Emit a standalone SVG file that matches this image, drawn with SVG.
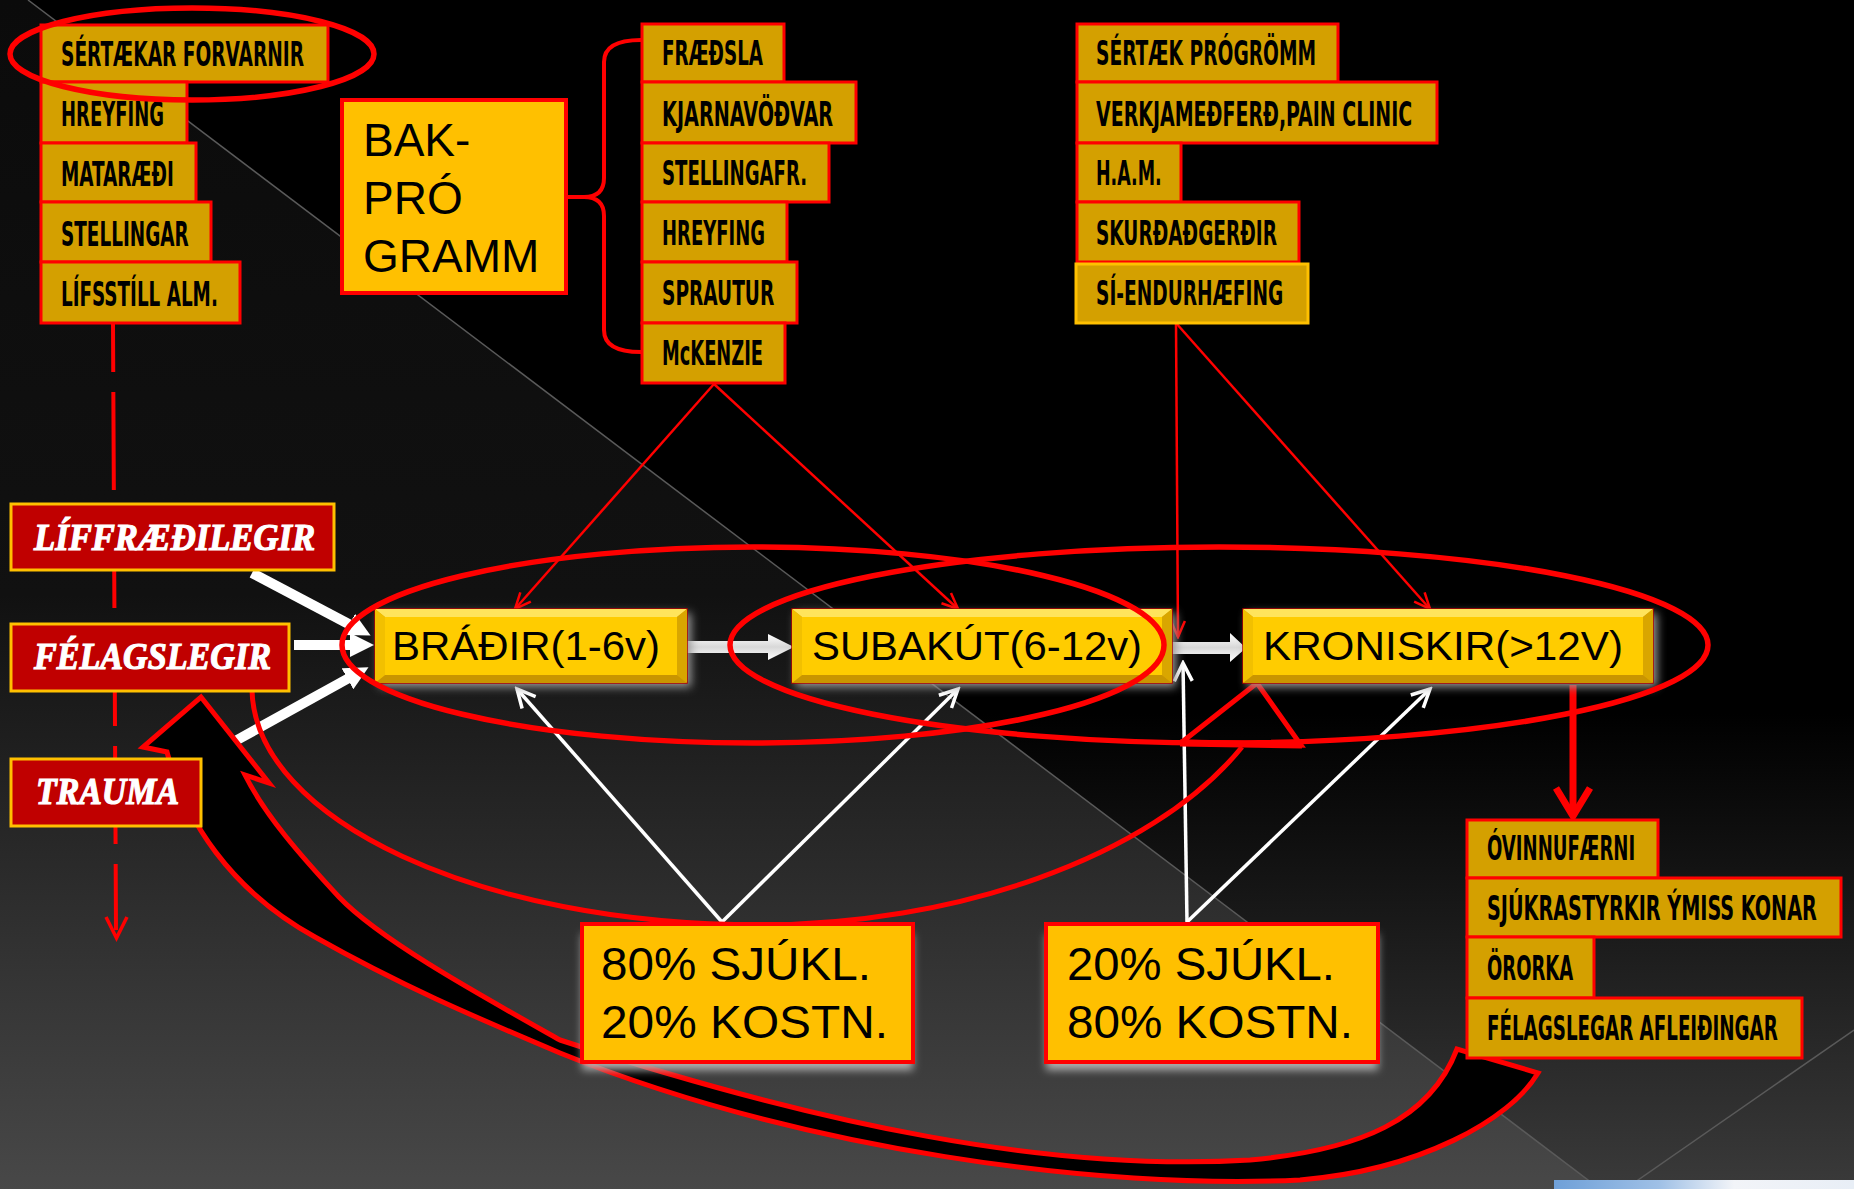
<svg xmlns="http://www.w3.org/2000/svg" width="1854" height="1189" viewBox="0 0 1854 1189">
<style>
.cbox{fill:#D4A000;stroke:#FF0000;stroke-width:3}
.cbox2{fill:#D4A000;stroke:#FFC000;stroke-width:3}
.ctext{font-family:"Liberation Sans Narrow","DejaVu Sans Condensed","Liberation Sans",sans-serif;font-weight:bold;font-size:33px;fill:#000}
.rbox{fill:#C00000;stroke:#FFC000;stroke-width:3}
.rtext{font-family:"Liberation Serif","DejaVu Serif",serif;font-weight:bold;font-style:italic;font-size:37px;fill:#fff;stroke:#fff;stroke-width:1.2}
.ybox{fill:#FFC000;stroke:#FF0000;stroke-width:4}
.atext{font-family:"Liberation Sans",Arial,sans-serif;fill:#000}
.ell{fill:none;stroke:#FF0000;stroke-width:5.5}
.rline{stroke:#FF0000;stroke-width:2.5;fill:none}
.wline{stroke:#FFFFFF;stroke-width:3.5;fill:none}
.wthick{stroke:#FFFFFF;stroke-width:10;fill:none}
.bt{fill:#FFE45C}.bb{fill:#C99500}.bl{fill:#F2C000}.br{fill:#D9A600}.bi{fill:#FFCC00}
.bo{fill:#D9A400;stroke:#B00000;stroke-width:1.5}
</style>
<defs>
<linearGradient id="bgR" x1="0" y1="0" x2="0" y2="1">
<stop offset="0" stop-color="#000"/><stop offset="0.6" stop-color="#000"/><stop offset="1" stop-color="#3a3a3a"/>
</linearGradient>
<linearGradient id="bgL" x1="0" y1="0" x2="0" y2="1">
<stop offset="0" stop-color="#0b0b0b"/><stop offset="0.5" stop-color="#111"/><stop offset="1" stop-color="#484848"/>
</linearGradient>
<linearGradient id="sky" x1="0" y1="0" x2="1" y2="0">
<stop offset="0" stop-color="#6fa0d8"/><stop offset="0.35" stop-color="#9fc0e6"/><stop offset="0.6" stop-color="#f2f4f8"/><stop offset="1" stop-color="#e8eef6"/>
</linearGradient>
<linearGradient id="shaft" x1="0" y1="0" x2="0" y2="1">
<stop offset="0" stop-color="#ffffff"/><stop offset="0.5" stop-color="#d8d8d8"/><stop offset="1" stop-color="#ffffff"/>
</linearGradient>
<filter id="blur" x="-20%" y="-40%" width="140%" height="180%"><feGaussianBlur stdDeviation="5"/></filter>
<filter id="blur2" x="-20%" y="-40%" width="140%" height="180%"><feGaussianBlur stdDeviation="4"/></filter>
<marker id="rArr" viewBox="0 0 20 20" refX="18" refY="10" markerWidth="20" markerHeight="20" markerUnits="userSpaceOnUse" orient="auto">
<path d="M2,3 L18,10 L2,17" fill="none" stroke="#FF0000" stroke-width="2.5"/>
</marker>
<marker id="wArr" viewBox="0 0 24 24" refX="21" refY="12" markerWidth="24" markerHeight="24" markerUnits="userSpaceOnUse" orient="auto">
<path d="M3,3 L21,12 L3,21" fill="none" stroke="#FFFFFF" stroke-width="3.5"/>
</marker>
<marker id="wTri" viewBox="0 0 20 20" refX="10" refY="10" markerWidth="24" markerHeight="24" markerUnits="userSpaceOnUse" orient="auto">
<path d="M0,0 L20,10 L0,20 Z" fill="#FFFFFF"/>
</marker>
</defs>

<g id="background">
<rect x="0" y="0" width="1854" height="1189" fill="url(#bgR)"/>
<polygon points="0,0 28,0 1600,1189 0,1189" fill="url(#bgL)"/>
<line x1="28" y1="0" x2="1600" y2="1189" stroke="#5a5a5a" stroke-width="1.5"/>
<line x1="1854" y1="1030" x2="1625" y2="1189" stroke="#5a5a5a" stroke-width="1.5"/>
<rect x="1554" y="1180" width="300" height="9" fill="url(#sky)"/>
</g>

<g id="connectors">
<line x1="113" y1="323" x2="116" y2="930" stroke="#FF0000" stroke-width="4" stroke-dasharray="98 20" stroke-dashoffset="49"/>
<polyline points="106,917 116.5,938 127,917" fill="none" stroke="#FF0000" stroke-width="3.5"/>
<path d="M641,40 Q604,40 604,62 L604,178 Q604,197 584,197 L566,197 M584,197 Q604,197 604,216 L604,330 Q604,352 641,352" fill="none" stroke="#FF0000" stroke-width="4"/>
<line class="rline" x1="714" y1="384" x2="515" y2="609" marker-end="url(#rArr)"/>
<line class="rline" x1="714" y1="384" x2="958" y2="609" marker-end="url(#rArr)"/>
<line class="rline" x1="1176" y1="323" x2="1178" y2="637" marker-end="url(#rArr)"/>
<line class="rline" x1="1176" y1="323" x2="1430" y2="609" marker-end="url(#rArr)"/>
<line class="wline" x1="722" y1="922" x2="517" y2="689" marker-end="url(#wArr)"/>
<line class="wline" x1="722" y1="922" x2="958" y2="689" marker-end="url(#wArr)"/>
<line class="wline" x1="1187" y1="922" x2="1183" y2="663" marker-end="url(#wArr)"/>
<line class="wline" x1="1187" y1="922" x2="1430" y2="689" marker-end="url(#wArr)"/>
<line class="wthick" x1="252" y1="573" x2="360" y2="630" marker-end="url(#wTri)"/>
<line class="wthick" x1="294" y1="645" x2="362" y2="645" marker-end="url(#wTri)"/>
<line class="wthick" x1="237" y1="740" x2="358" y2="673" marker-end="url(#wTri)"/>
<path d="M687,641 L768,641 L768,634 L794,647 L768,660 L768,653 L687,653 Z" fill="url(#shaft)"/>
<path d="M1172,642 L1230,642 L1230,633 L1246,648 L1230,662 L1230,654 L1172,654 Z" fill="url(#shaft)"/>
<line x1="1573" y1="685" x2="1573" y2="814" stroke="#FF0000" stroke-width="7"/>
<polyline points="1556,788 1573,816 1590,788" fill="none" stroke="#FF0000" stroke-width="7"/>
<path d="M167,752 C185,820 230,890 315,937 C400,985 470,1015 560,1053 C800,1150 1100,1190 1300,1180 C1420,1170 1510,1120 1538,1073 L1457,1049 C1430,1120 1360,1150 1250,1160 C1050,1172 820,1125 560,1040 C480,995 380,940 339,897 C300,855 265,815 245,775 L269,783 L201,697 L143,747 Z" fill="#000" stroke="#FF0000" stroke-width="5" stroke-linejoin="miter"/>
<path d="M252,690 C255,820 480,925 760,925 C950,925 1150,860 1242,747" fill="none" stroke="#FF0000" stroke-width="5"/>
<polygon points="1257,683 1182,742 1301,745" fill="none" stroke="#FF0000" stroke-width="5" stroke-linejoin="miter"/>
<line x1="1180" y1="743" x2="1302" y2="745" stroke="#FF0000" stroke-width="7"/>
</g>

<g id="n-sertaekar-forvarnir"><rect class="cbox" x="41" y="25" width="287" height="57"/><text class="ctext" transform="translate(61 66) scale(0.62 1)" textLength="392" lengthAdjust="spacingAndGlyphs">SÉRTÆKAR FORVARNIR</text></g>
<g id="n-hreyfing1"><rect class="cbox" x="41" y="82" width="146" height="61"/><text class="ctext" transform="translate(61 126) scale(0.62 1)" textLength="166" lengthAdjust="spacingAndGlyphs">HREYFING</text></g>
<g id="n-mataraedi"><rect class="cbox" x="41" y="143" width="155" height="59"/><text class="ctext" transform="translate(61 186) scale(0.62 1)" textLength="182" lengthAdjust="spacingAndGlyphs">MATARÆÐI</text></g>
<g id="n-stellingar"><rect class="cbox" x="41" y="202" width="170" height="60"/><text class="ctext" transform="translate(61 246) scale(0.62 1)" textLength="206" lengthAdjust="spacingAndGlyphs">STELLINGAR</text></g>
<g id="n-lifsstill"><rect class="cbox" x="41" y="262" width="199" height="61"/><text class="ctext" transform="translate(61 306) scale(0.62 1)" textLength="253" lengthAdjust="spacingAndGlyphs">LÍFSSTÍLL ALM.</text></g>

<g id="n-bakprogramm"><rect class="ybox" x="342" y="100" width="224" height="193" stroke-width="3"/>
<text class="atext" x="363" y="156" font-size="46">BAK-</text>
<text class="atext" x="363" y="214" font-size="46">PRÓ</text>
<text class="atext" x="363" y="272" font-size="46">GRAMM</text></g>

<g id="n-fraedsla"><rect class="cbox" x="642" y="24" width="142" height="58"/><text class="ctext" transform="translate(662 65) scale(0.62 1)" textLength="163" lengthAdjust="spacingAndGlyphs">FRÆÐSLA</text></g>
<g id="n-kjarnavodvar"><rect class="cbox" x="642" y="82" width="214" height="61"/><text class="ctext" transform="translate(662 126) scale(0.62 1)" textLength="276" lengthAdjust="spacingAndGlyphs">KJARNAVÖÐVAR</text></g>
<g id="n-stellingafr"><rect class="cbox" x="642" y="143" width="187" height="59"/><text class="ctext" transform="translate(662 185) scale(0.62 1)" textLength="234" lengthAdjust="spacingAndGlyphs">STELLINGAFR.</text></g>
<g id="n-hreyfing2"><rect class="cbox" x="642" y="202" width="145" height="60"/><text class="ctext" transform="translate(662 245) scale(0.62 1)" textLength="166" lengthAdjust="spacingAndGlyphs">HREYFING</text></g>
<g id="n-sprautur"><rect class="cbox" x="642" y="262" width="155" height="61"/><text class="ctext" transform="translate(662 305) scale(0.62 1)" textLength="181" lengthAdjust="spacingAndGlyphs">SPRAUTUR</text></g>
<g id="n-mckenzie"><rect class="cbox" x="642" y="323" width="143" height="60"/><text class="ctext" transform="translate(662 365) scale(0.62 1)" textLength="163" lengthAdjust="spacingAndGlyphs">McKENZIE</text></g>

<g id="n-sertaek-progromm"><rect class="cbox" x="1077" y="24" width="261" height="58"/><text class="ctext" transform="translate(1096 65) scale(0.62 1)" textLength="355" lengthAdjust="spacingAndGlyphs">SÉRTÆK PRÓGRÖMM</text></g>
<g id="n-verkjamedferd"><rect class="cbox" x="1077" y="82" width="360" height="61"/><text class="ctext" transform="translate(1096 126) scale(0.62 1)" textLength="510" lengthAdjust="spacingAndGlyphs">VERKJAMEÐFERÐ,PAIN CLINIC</text></g>
<g id="n-ham"><rect class="cbox" x="1077" y="143" width="104" height="59"/><text class="ctext" transform="translate(1096 185) scale(0.62 1)" textLength="106" lengthAdjust="spacingAndGlyphs">H.A.M.</text></g>
<g id="n-skurdadgerdir"><rect class="cbox" x="1077" y="202" width="222" height="60"/><text class="ctext" transform="translate(1096 245) scale(0.62 1)" textLength="292" lengthAdjust="spacingAndGlyphs">SKURÐAÐGERÐIR</text></g>
<g id="n-si-endurhaefing"><rect class="cbox2" x="1076" y="264" width="232" height="59"/><text class="ctext" transform="translate(1096 305) scale(0.62 1)" textLength="302" lengthAdjust="spacingAndGlyphs">SÍ-ENDURHÆFING</text></g>

<g id="n-liffraedilegir"><rect class="rbox" x="11" y="504" width="323" height="66"/><text class="rtext" x="34" y="550" textLength="281" lengthAdjust="spacingAndGlyphs">LÍFFRÆÐILEGIR</text></g>
<g id="n-felagslegir"><rect class="rbox" x="11" y="624" width="278" height="67"/><text class="rtext" x="34" y="669" textLength="237" lengthAdjust="spacingAndGlyphs">FÉLAGSLEGIR</text></g>
<g id="n-trauma"><rect class="rbox" x="11" y="759" width="190" height="67"/><text class="rtext" x="36" y="804" textLength="143" lengthAdjust="spacingAndGlyphs">TRAUMA</text></g>

<g id="n-bradir">
<rect x="379" y="613" width="312" height="74" fill="#9a9a9a" filter="url(#blur)"/>
<rect class="bo" x="375" y="609" width="312" height="74"/>
<polygon class="bt" points="375,609 687,609 677,617 385,617"/>
<polygon class="bb" points="375,683 687,683 677,675 385,675"/>
<polygon class="bl" points="375,609 385,617 385,675 375,683"/>
<polygon class="br" points="687,609 677,617 677,675 687,683"/>
<rect class="bi" x="385" y="617" width="292" height="58"/>
<text class="atext" x="392" y="660" font-size="41" textLength="268" lengthAdjust="spacingAndGlyphs">BRÁÐIR(1-6v)</text>
</g>
<g id="n-subakut">
<rect x="796" y="613" width="380" height="74" fill="#9a9a9a" filter="url(#blur)"/>
<rect class="bo" x="792" y="609" width="380" height="74"/>
<polygon class="bt" points="792,609 1172,609 1162,617 802,617"/>
<polygon class="bb" points="792,683 1172,683 1162,675 802,675"/>
<polygon class="bl" points="792,609 802,617 802,675 792,683"/>
<polygon class="br" points="1172,609 1162,617 1162,675 1172,683"/>
<rect class="bi" x="802" y="617" width="360" height="58"/>
<text class="atext" x="812" y="660" font-size="41" textLength="330" lengthAdjust="spacingAndGlyphs">SUBAKÚT(6-12v)</text>
</g>
<g id="n-kroniskir">
<rect x="1247" y="613" width="410" height="74" fill="#9a9a9a" filter="url(#blur)"/>
<rect class="bo" x="1243" y="609" width="410" height="74"/>
<polygon class="bt" points="1243,609 1653,609 1643,617 1253,617"/>
<polygon class="bb" points="1243,683 1653,683 1643,675 1253,675"/>
<polygon class="bl" points="1243,609 1253,617 1253,675 1243,683"/>
<polygon class="br" points="1653,609 1643,617 1643,675 1653,683"/>
<rect class="bi" x="1253" y="617" width="390" height="58"/>
<text class="atext" x="1263" y="660" font-size="41" textLength="360" lengthAdjust="spacingAndGlyphs">KRONISKIR(&gt;12V)</text>
</g>

<g id="n-80">
<rect x="582" y="934" width="331" height="136" fill="#b0b0b0" filter="url(#blur2)"/>
<rect class="ybox" x="582" y="924" width="331" height="138"/>
<text class="atext" x="601" y="980" font-size="46" textLength="270" lengthAdjust="spacingAndGlyphs">80% SJÚKL.</text>
<text class="atext" x="601" y="1038" font-size="46" textLength="287" lengthAdjust="spacingAndGlyphs">20% KOSTN.</text>
</g>
<g id="n-20">
<rect x="1046" y="934" width="332" height="136" fill="#b0b0b0" filter="url(#blur2)"/>
<rect class="ybox" x="1046" y="924" width="332" height="138"/>
<text class="atext" x="1067" y="980" font-size="46" textLength="268" lengthAdjust="spacingAndGlyphs">20% SJÚKL.</text>
<text class="atext" x="1067" y="1038" font-size="46" textLength="286" lengthAdjust="spacingAndGlyphs">80% KOSTN.</text>
</g>

<g id="n-ovinnufaerni"><rect class="cbox" x="1467" y="820" width="191" height="58"/><text class="ctext" transform="translate(1487 860) scale(0.62 1)" textLength="239" lengthAdjust="spacingAndGlyphs">ÓVINNUFÆRNI</text></g>
<g id="n-sjukrastyrkir"><rect class="cbox" x="1467" y="878" width="374" height="59"/><text class="ctext" transform="translate(1487 920) scale(0.62 1)" textLength="532" lengthAdjust="spacingAndGlyphs">SJÚKRASTYRKIR ÝMISS KONAR</text></g>
<g id="n-ororka"><rect class="cbox" x="1467" y="937" width="127" height="61"/><text class="ctext" transform="translate(1487 980) scale(0.62 1)" textLength="139" lengthAdjust="spacingAndGlyphs">ÖRORKA</text></g>
<g id="n-felagslegar"><rect class="cbox" x="1467" y="998" width="335" height="60"/><text class="ctext" transform="translate(1487 1040) scale(0.62 1)" textLength="469" lengthAdjust="spacingAndGlyphs">FÉLAGSLEGAR AFLEIÐINGAR</text></g>

<g id="ellipses">
<ellipse class="ell" cx="192" cy="54" rx="182" ry="46"/>
<ellipse class="ell" cx="753" cy="645" rx="411" ry="98"/>
<ellipse class="ell" cx="1219" cy="645" rx="489" ry="98"/>
</g>
</svg>
